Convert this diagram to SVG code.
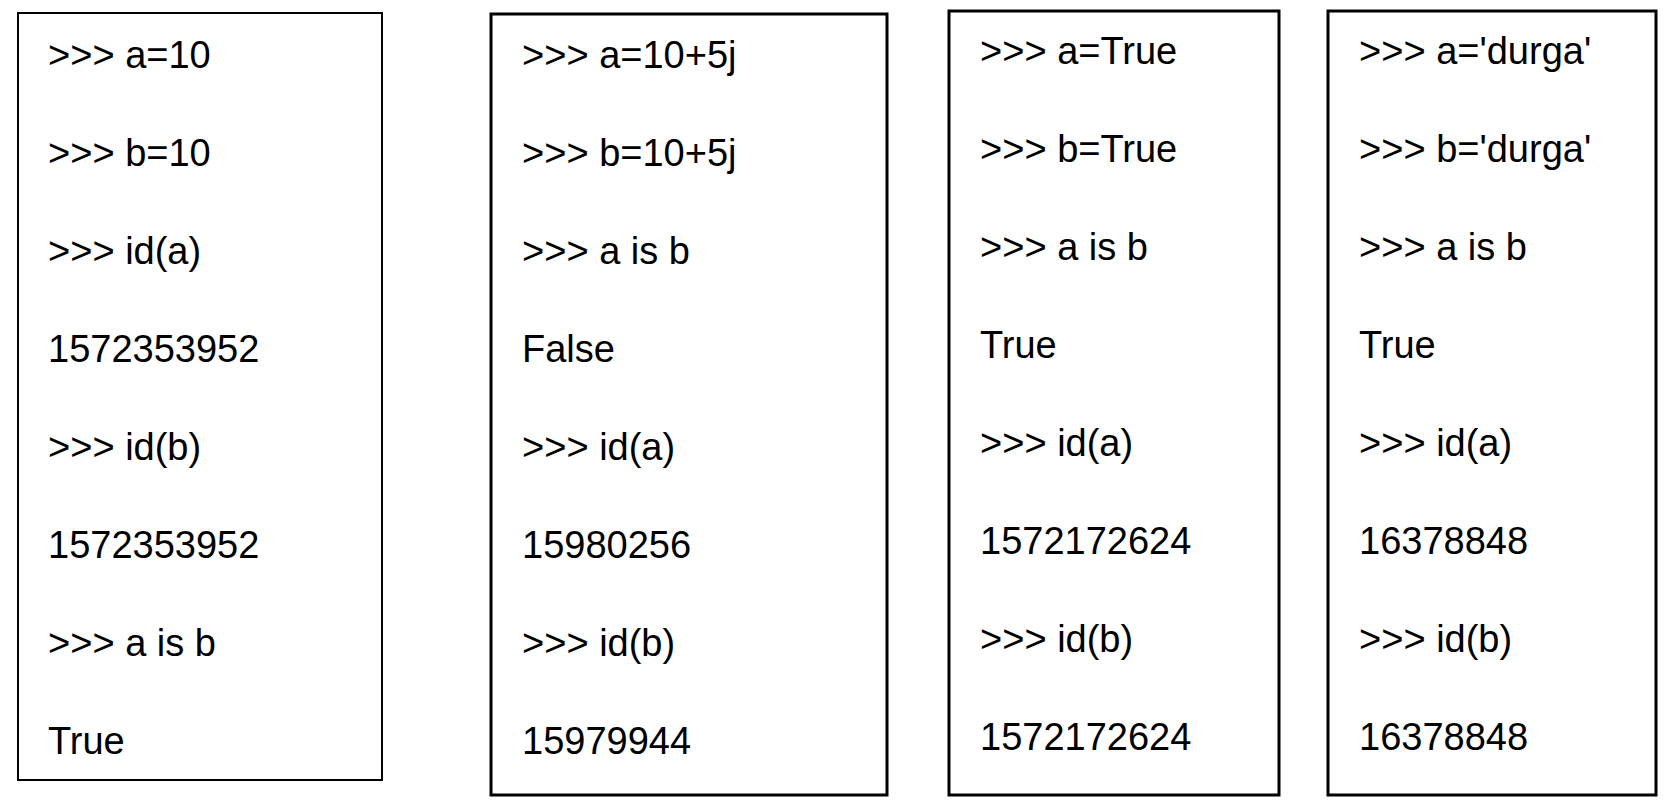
<svg xmlns="http://www.w3.org/2000/svg" width="1677" height="802" viewBox="0 0 1677 802">
<style>
.box{fill:#fff;stroke:#000;stroke-width:3}
.thin{stroke-width:2}
text{font-family:"Liberation Sans",Arial,sans-serif;font-size:38px;fill:#000}
</style>
<rect width="1677" height="802" fill="#fff"/>
<g id="box1">
<rect class="box thin" x="18" y="13" width="364" height="767"/>
<text x="48" y="68">&gt;&gt;&gt; a=10</text>
<text x="48" y="166">&gt;&gt;&gt; b=10</text>
<text x="48" y="264">&gt;&gt;&gt; id(a)</text>
<text x="48" y="362">1572353952</text>
<text x="48" y="460">&gt;&gt;&gt; id(b)</text>
<text x="48" y="558">1572353952</text>
<text x="48" y="656">&gt;&gt;&gt; a is b</text>
<text x="48" y="754">True</text>
</g>
<g id="box2">
<rect class="box" x="491" y="14" width="396" height="781"/>
<text x="522" y="68">&gt;&gt;&gt; a=10+5j</text>
<text x="522" y="166">&gt;&gt;&gt; b=10+5j</text>
<text x="522" y="264">&gt;&gt;&gt; a is b</text>
<text x="522" y="362">False</text>
<text x="522" y="460">&gt;&gt;&gt; id(a)</text>
<text x="522" y="558">15980256</text>
<text x="522" y="656">&gt;&gt;&gt; id(b)</text>
<text x="522" y="754">15979944</text>
</g>
<g id="box3">
<rect class="box" x="949" y="11" width="330" height="784"/>
<text x="980" y="64">&gt;&gt;&gt; a=True</text>
<text x="980" y="162">&gt;&gt;&gt; b=True</text>
<text x="980" y="260">&gt;&gt;&gt; a is b</text>
<text x="980" y="358">True</text>
<text x="980" y="456">&gt;&gt;&gt; id(a)</text>
<text x="980" y="554">1572172624</text>
<text x="980" y="652">&gt;&gt;&gt; id(b)</text>
<text x="980" y="750">1572172624</text>
</g>
<g id="box4">
<rect class="box" x="1328" y="11" width="328" height="784"/>
<text x="1359" y="64">&gt;&gt;&gt; a='durga'</text>
<text x="1359" y="162">&gt;&gt;&gt; b='durga'</text>
<text x="1359" y="260">&gt;&gt;&gt; a is b</text>
<text x="1359" y="358">True</text>
<text x="1359" y="456">&gt;&gt;&gt; id(a)</text>
<text x="1359" y="554">16378848</text>
<text x="1359" y="652">&gt;&gt;&gt; id(b)</text>
<text x="1359" y="750">16378848</text>
</g>
<g id="connectors"/>
</svg>
